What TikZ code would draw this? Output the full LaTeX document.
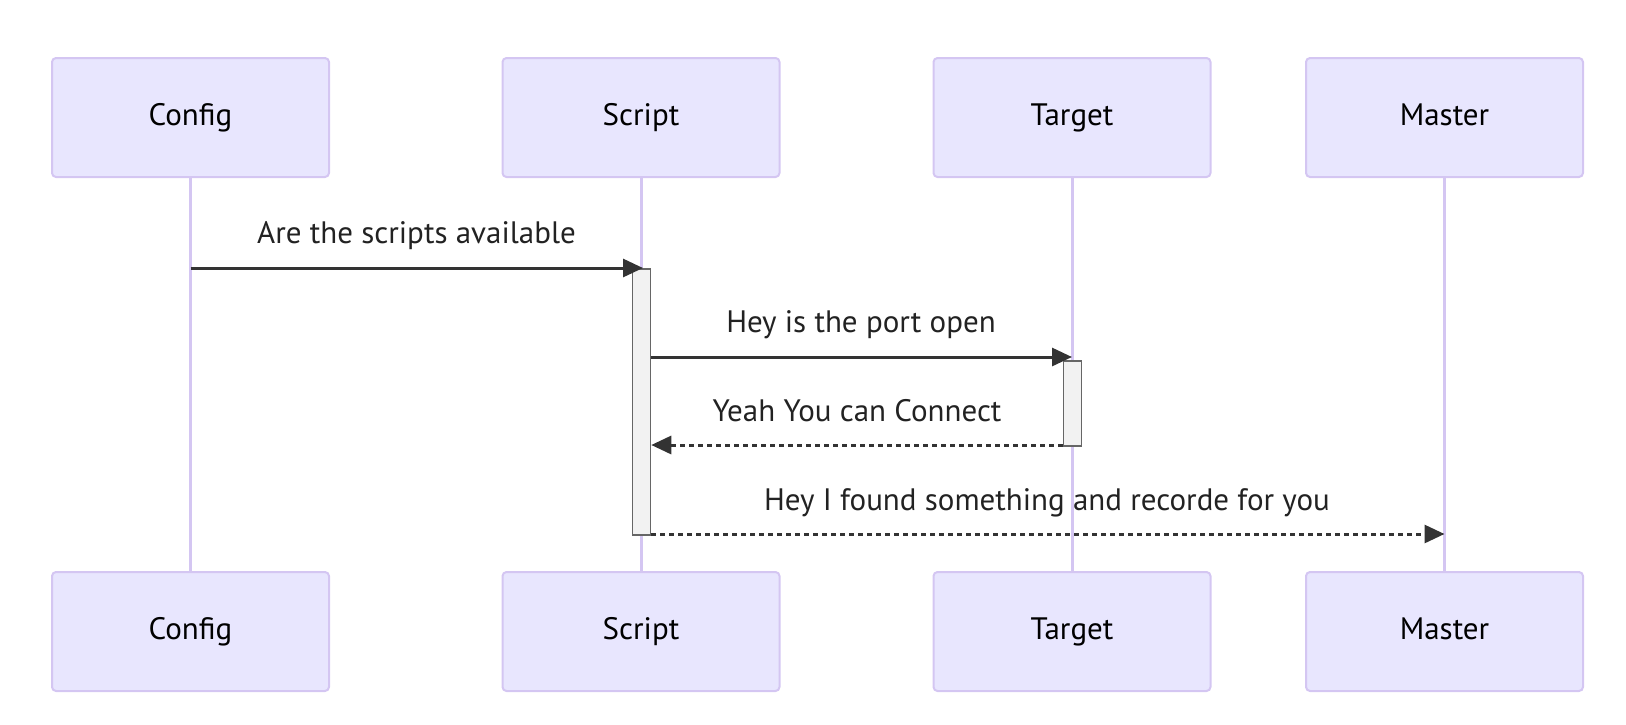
\documentclass[tikz,border=0pt]{standalone}
\usepackage{fontspec}
\setmainfont{PT Sans}
\usetikzlibrary{arrows.meta}
\definecolor{actorfill}{HTML}{E8E6FE}
\definecolor{actorline}{HTML}{D4C6F2}
\definecolor{actfill}{HTML}{F2F2F2}
\definecolor{actline}{HTML}{666666}
\definecolor{msg}{HTML}{333333}
\definecolor{labeltext}{HTML}{222222}
\tikzset{
  actor/.style={draw=actorline, fill=actorfill, line width=2pt, rounded corners=4pt,
    minimum width=277pt, minimum height=119pt, inner sep=0pt,
    font=\fontsize{31}{36}\selectfont, text=black, text height=22pt, text depth=6pt},
  lifeline/.style={draw=actorline, line width=3pt},
  activation/.style={draw=actline, fill=actfill, line width=1.5pt},
  msgline/.style={draw=msg, line width=3pt, -{Triangle[length=20pt,width=18pt]}},
  msgdash/.style={msgline, dash pattern=on 5pt off 4pt},
  msglabel/.style={font=\fontsize{31}{36}\selectfont, text=labeltext, inner sep=0pt, text height=22pt, text depth=6pt}
}
\begin{document}
\begin{tikzpicture}[x=1pt,y=-1pt]
\useasboundingbox (0,0) rectangle (1626,724);
% actors top
\node[actor] (c1) at (190.5,117.5) {Config};
\node[actor] (s1) at (641,117.5) {Script};
\node[actor] (t1) at (1072,117.5) {Target};
\node[actor] (m1) at (1444.5,117.5) {Master};
% bottom actor positions
\coordinate (c2p) at (190.5,631.5);
\coordinate (s2p) at (641,631.5);
\coordinate (t2p) at (1072,631.5);
\coordinate (m2p) at (1444.5,631.5);
% lifelines
\draw[lifeline] (c1.south) -- (c2p);
\draw[lifeline] (s1.south) -- (s2p);
\draw[lifeline] (t1.south) -- (t2p);
\draw[lifeline] (m1.south) -- (m2p);
% activations
\node[activation, minimum width=18pt, minimum height=266pt, inner sep=0pt, anchor=north] (sa) at (641.5,268) {};
\node[activation, minimum width=18pt, minimum height=85pt, inner sep=0pt, anchor=north] (ta) at (1072.5,360) {};
% message points
\coordinate (m1a) at (190.5,268);
\coordinate (m1b) at (643,268);
\coordinate (m2a) at (sa.east |- 0,357);
\coordinate (m2b) at (1072,357);
\coordinate (m3a) at (ta.west |- 0,445);
\coordinate (m3b) at (sa.east |- 0,445);
\coordinate (m4a) at (sa.east |- 0,534);
\coordinate (m4b) at (1444.5,534);
% messages
\draw[msgline] (m1a) -- (m1b);
\node[msglabel] (l1) at (416.5,235) {Are the scripts available};
\draw[msgline] (m2a) -- (m2b);
\node[msglabel] (l2) at (861,324) {Hey is the port open};
\draw[msgdash] (m3a) -- (m3b);
\node[msglabel] (l3) at (857,413) {Yeah You can Connect};
\draw[msgdash] (m4a) -- (m4b);
\node[msglabel] (l4) at (1047,502) {Hey I found something and recorde for you};
% actors bottom
\node[actor] (c2) at (c2p) {Config};
\node[actor] (s2) at (s2p) {Script};
\node[actor] (t2) at (t2p) {Target};
\node[actor] (m2) at (m2p) {Master};
\end{tikzpicture}
\end{document}
